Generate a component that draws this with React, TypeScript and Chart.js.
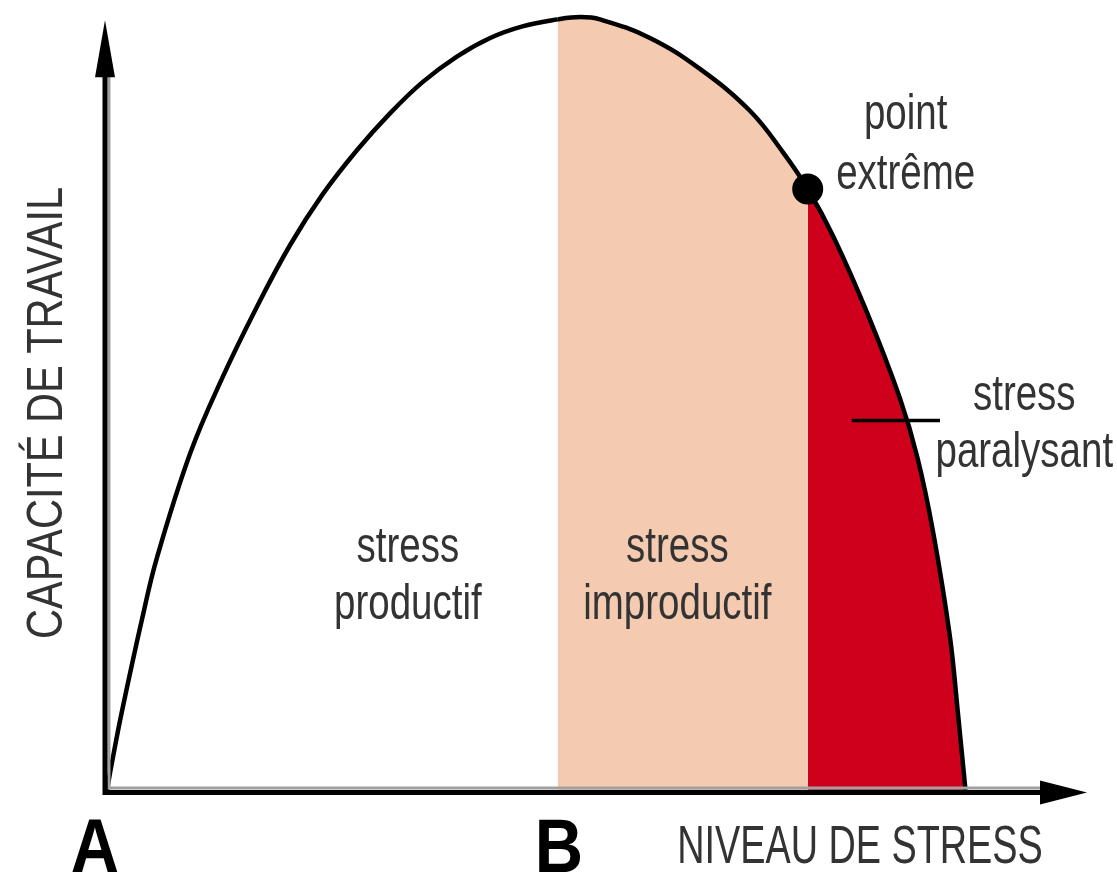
import React, { useEffect, useRef } from 'react';
import { Chart, registerables } from 'chart.js';

Chart.register(...registerables);

// ---- Data (x: niveau de stress, y: capacité de travail, both 0..100) ----
const curveX = [0, 0.5, 1.5, 3.6, 5.1, 8.5, 11.8, 15.3, 18.7, 22.0, 25.5, 28.9, 32.2, 35.7, 39.1, 42.4, 46.0, 48.3, 50.3, 55.4, 60.5, 65.6, 69.0, 71.5, 74.1, 77.6, 80.9, 82.7, 84.3, 86.0, 86.8, 87.6];
const curveY = [0, 3.5, 10.0, 22.2, 30.0, 43.5, 53.3, 62.4, 70.4, 76.9, 82.6, 87.4, 91.4, 94.7, 97.1, 98.6, 99.5, 99.8, 99.5, 97.1, 93.1, 87.7, 82.3, 77.6, 71.5, 61.5, 50.6, 42.9, 33.3, 19.9, 10.3, 0];

// zone boundaries: B (start of unproductive stress) and the extreme point
const zoneStarts = [0, 46.0, 71.5];
const zoneColors = ['rgba(0,0,0,0)', '#F4CBB0', '#CE001B'];

const extremeX = [71.5];
const extremeY = [77.6];

const markerX = [76.0, 85.0];
const markerY = [47.7, 47.7];

const tickValues = [0, 46.0];
const tickLabels = ['A', 'B'];

const regionLines = [
  ['stress', 'productif'],
  ['stress', 'improductif'],
  ['point', 'extrême'],
  ['stress', 'paralysant'],
];
const regionX = [30.7, 58.2, 81.5, 93.6];
const regionY1 = [29.5, 29.5, 85.3, 49.1];
const regionY2 = [22.1, 22.1, 77.6, 41.7];

const xTitle = 'NIVEAU DE STRESS';
const yTitle = 'CAPACITÉ DE TRAVAIL';

// axis arrow tips (data units)
const xAxisEnd = 100;
const yAxisEnd = 99.4;

// ---- styles ----
const FONT = '"Liberation Sans", Arial, sans-serif';
const TEXT_COLOR = '#333333';

function drawCondensed(
  ctx: CanvasRenderingContext2D,
  text: string,
  x: number,
  y: number,
  font: string,
  sx: number,
  color: string,
  rotate = 0
) {
  ctx.save();
  ctx.translate(x, y);
  if (rotate) ctx.rotate(rotate);
  ctx.scale(sx, 1);
  ctx.font = font;
  ctx.fillStyle = color;
  ctx.textAlign = 'center';
  ctx.textBaseline = 'alphabetic';
  ctx.fillText(text, 0, 0);
  ctx.restore();
}

const overlayPlugin = {
  id: 'overlay',
  afterDatasetsDraw(chart: any) {
    const ctx: CanvasRenderingContext2D = chart.ctx;
    const xs = chart.scales.x;
    const ys = chart.scales.y;
    const x0 = xs.getPixelForValue(0);
    const y0 = ys.getPixelForValue(0);
    const xEnd = xs.getPixelForValue(xAxisEnd);
    const yEnd = ys.getPixelForValue(yAxisEnd);

    ctx.save();
    // gray fringes
    ctx.strokeStyle = '#a0a0a0';
    ctx.lineWidth = 3;
    ctx.beginPath();
    ctx.moveTo(x0 + 2, yEnd + 50);
    ctx.lineTo(x0 + 2, y0 - 2);
    ctx.lineTo(xEnd - 45, y0 - 2);
    ctx.stroke();
    // black axes
    ctx.strokeStyle = '#000';
    ctx.lineWidth = 5;
    ctx.lineCap = 'butt';
    ctx.beginPath();
    ctx.moveTo(x0 - 2, yEnd + 50);
    ctx.lineTo(x0 - 2, y0 + 2.5);
    ctx.lineTo(xEnd - 45, y0 + 2.5);
    ctx.stroke();
    // arrow heads
    ctx.fillStyle = '#000';
    ctx.beginPath();
    ctx.moveTo(x0 - 2, yEnd);
    ctx.lineTo(x0 - 12, yEnd + 57);
    ctx.lineTo(x0 + 8, yEnd + 57);
    ctx.closePath();
    ctx.fill();
    ctx.beginPath();
    ctx.moveTo(xEnd, y0 + 2.5);
    ctx.lineTo(xEnd - 47, y0 + 2.5 - 12);
    ctx.lineTo(xEnd - 47, y0 + 2.5 + 12);
    ctx.closePath();
    ctx.fill();
    ctx.restore();
  },
  afterDraw(chart: any) {
    const ctx: CanvasRenderingContext2D = chart.ctx;
    const xs = chart.scales.x;
    const ys = chart.scales.y;
    const x0 = xs.getPixelForValue(0);
    const y0 = ys.getPixelForValue(0);

    // region labels
    regionLines.forEach((lines, i) => {
      const px = xs.getPixelForValue(regionX[i]);
      drawCondensed(ctx, lines[0], px, ys.getPixelForValue(regionY1[i]), `50px ${FONT}`, 0.77, TEXT_COLOR);
      drawCondensed(ctx, lines[1], px, ys.getPixelForValue(regionY2[i]), `50px ${FONT}`, 0.77, TEXT_COLOR);
    });

    // A / B tick labels
    const tickShift = [-12, 1];
    tickValues.forEach((v, i) => {
      drawCondensed(ctx, tickLabels[i], xs.getPixelForValue(v) + tickShift[i], y0 + 82, `bold 76px ${FONT}`, 0.88, '#000');
    });

    // axis titles
    drawCondensed(ctx, xTitle, 860, y0 + 73, `54px ${FONT}`, 0.7, TEXT_COLOR);
    drawCondensed(ctx, yTitle, x0 - 45, 413, `50px ${FONT}`, 0.83, TEXT_COLOR, -Math.PI / 2);
  },
};

function zoneColor(x: number): string {
  let c = zoneColors[0];
  for (let i = 0; i < zoneStarts.length; i++) {
    if (x >= zoneStarts[i] - 1e-9) c = zoneColors[i];
  }
  return c;
}

export default function App() {
  const ref = useRef<HTMLCanvasElement>(null);

  useEffect(() => {
    const canvas = ref.current;
    if (!canvas) return;
    const curve = curveX.map((x, i) => ({ x, y: curveY[i] }));
    const extreme = extremeX.map((x, i) => ({ x, y: extremeY[i] }));
    const marker = markerX.map((x, i) => ({ x, y: markerY[i] }));

    const chart = new Chart(canvas, {
      type: 'line',
      data: {
        datasets: [
          {
            data: extreme,
            showLine: false,
            pointRadius: 15.5,
            pointBackgroundColor: '#000',
            pointBorderWidth: 0,
            pointHoverRadius: 15.5,
            clip: false,
          } as any,
          {
            data: marker,
            borderColor: '#000',
            borderWidth: 3.5,
            pointRadius: 0,
            fill: false,
            clip: false,
          } as any,
          {
            data: curve,
            borderColor: '#000',
            borderWidth: 4.5,
            pointRadius: 0,
            fill: 'origin',
            backgroundColor: 'rgba(0,0,0,0)',
            tension: 0.4,
            capBezierPoints: false,
            borderJoinStyle: 'round',
            clip: false,
            segment: {
              backgroundColor: (c: any) => zoneColor(c.p0.parsed.x),
            },
          } as any,
        ],
      },
      options: {
        responsive: false,
        animation: false,
        devicePixelRatio: 1,
        events: [],
        layout: { padding: { left: 107, right: 30, top: 10, bottom: 85 } },
        plugins: {
          legend: { display: false },
          tooltip: { enabled: false },
        },
        scales: {
          x: { type: 'linear', min: 0, max: 100, display: false },
          y: { type: 'linear', min: 0, max: 100, display: false },
        },
      },
      plugins: [overlayPlugin],
    });
    return () => chart.destroy();
  }, []);

  return (
    <div style={{ position: 'fixed', left: 0, top: 0, width: 1117, height: 875, background: '#fff' }}>
      <canvas ref={ref} width={1117} height={875} style={{ width: 1117, height: 875, display: 'block' }} />
    </div>
  );
}
